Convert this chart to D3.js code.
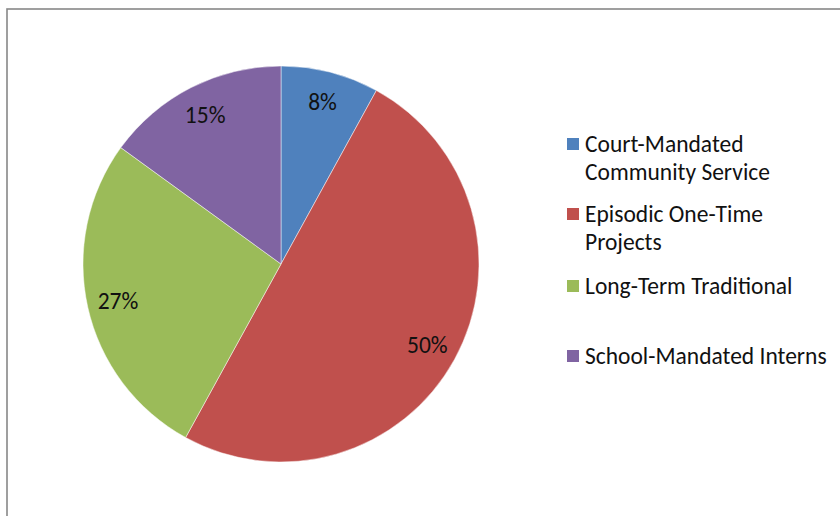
<!DOCTYPE html>
<html>
<head>
<meta charset="utf-8">
<script src="https://cdn.jsdelivr.net/npm/d3@7"></script>
<style>
  html, body { margin: 0; padding: 0; background: #fff; }
  svg { display: block; }
</style>
</head>
<body>
<svg id="chart" width="840" height="516"></svg>
<script>
const categories = ["Court-Mandated Community Service", "Episodic One-Time Projects", "Long-Term Traditional", "School-Mandated Interns"];
const legendLines = [["Court-Mandated", "Community Service"], ["Episodic One-Time", "Projects"], ["Long-Term Traditional"], ["School-Mandated Interns"]];
const values = [8, 50, 27, 15];
const labels = ["8%", "50%", "27%", "15%"];
const colors = ["#4F81BD", "#C0504D", "#9BBB59", "#8064A2"];

const svg = d3.select("#chart");
const FONT = "Carlito, Calibri, 'Open Sans', 'Noto Sans', sans-serif";
const FS = 23.5;

// chart area border
svg.append("rect")
  .attr("x", 7).attr("y", 9)
  .attr("width", 900).attr("height", 600)
  .attr("fill", "#fff")
  .attr("stroke", "#888").attr("stroke-width", 1.6);

const cx = 281, cy = 264, R = 198;
const pie = d3.pie().sort(null).value(d => d);
const arcs = pie(values);
const arc = d3.arc().innerRadius(0).outerRadius(R);
const labelArc = d3.arc().innerRadius(167).outerRadius(167);

const g = svg.append("g").attr("transform", `translate(${cx},${cy})`);
g.selectAll("path.slice").data(arcs).join("path")
  .attr("class", "slice")
  .attr("d", arc)
  .attr("fill", (d, i) => colors[i])
  .attr("stroke", "rgba(255,255,255,0.6)")
  .attr("stroke-width", 0.8);

g.selectAll("text.lbl").data(arcs).join("text")
  .attr("class", "lbl")
  .attr("transform", d => `translate(${labelArc.centroid(d)})`)
  .attr("text-anchor", "middle")
  .attr("dy", "0.35em")
  .attr("font-family", FONT)
  .attr("font-size", FS)
  .attr("fill", "#111")
  .text((d, i) => labels[i]);

// legend
const legendY = [138, 208, 280, 350];
const lg = svg.append("g");
legendLines.forEach((lines, i) => {
  lg.append("rect")
    .attr("x", 567).attr("y", legendY[i])
    .attr("width", 12).attr("height", 12)
    .attr("fill", colors[i]);
  lines.forEach((t, j) => {
    lg.append("text")
      .attr("x", 585)
      .attr("y", legendY[i] + 14 + j * 28)
      .attr("font-family", FONT)
      .attr("font-size", FS)
      .attr("fill", "#111")
      .text(t);
  });
});
</script>
</body>
</html>
